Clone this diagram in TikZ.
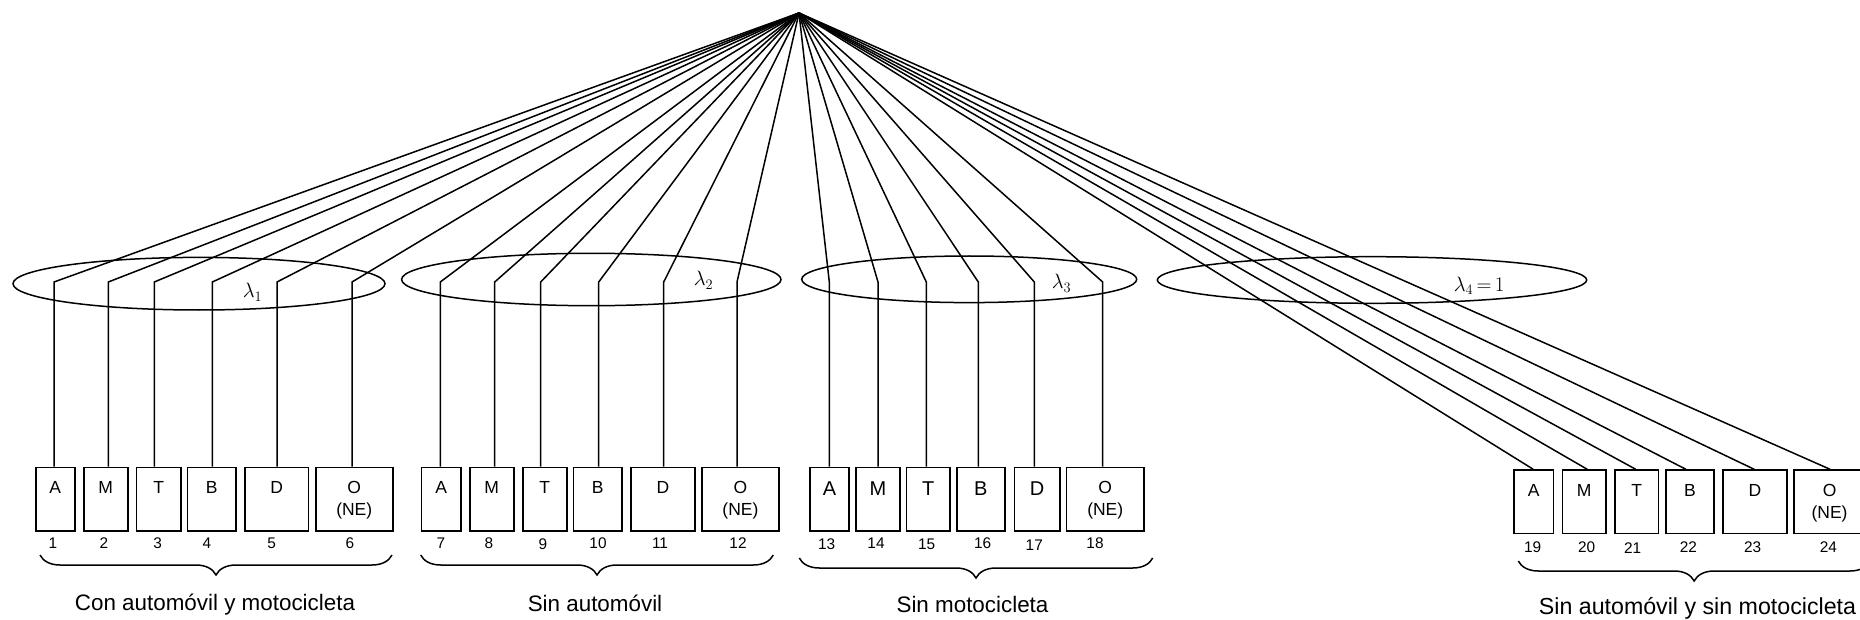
\documentclass[tikz,border=0pt]{standalone}
\usepackage{fontspec}
\setmainfont{Liberation Sans}
\usetikzlibrary{decorations.pathreplacing}

\begin{document}
\begin{tikzpicture}[x=1pt,y=-1pt,line width=1.5pt,
	cell/.style={draw,anchor=north west,inner sep=0,minimum height=63.5},
	letter/.style={anchor=north,inner sep=0,align=center,font=\fontsize{17.5}{21.7}\selectfont},
	bigletter/.style={letter,font=\fontsize{20}{24}\selectfont},
	num/.style={inner sep=0,font=\fontsize{15.4}{18}\selectfont},
	grouplabel/.style={anchor=base,inner sep=0,font=\fontsize{22.4}{26}\selectfont},
	lam/.style={anchor=base west,inner sep=0,font=\fontsize{22}{26}\selectfont},
	underbrace/.style={decorate,decoration={brace,mirror,amplitude=20}}]
			%%%%% START %%%%%
			\useasboundingbox (0,0) rectangle (1860,620);
			
			\coordinate (apex) at (799,13);
			
			%% con automovil y motocicleta
			\draw (199,283.7) ellipse [x radius=186, y radius=26.3];
			\node[lam] (lam1) at (242,298) {$\lambda_1$};
			\node[cell,minimum width=39] (b1) at (35,466.7) {};
			\node[cell,minimum width=44] (b2) at (83,466.7) {};
			\node[cell,minimum width=44.6] (b3) at (135.7,466.7) {};
			\node[cell,minimum width=48.6] (b4) at (186.7,466.7) {};
			\node[cell,minimum width=63.4] (b5) at (244.3,466.7) {};
			\node[cell,minimum width=77] (b6) at (315,466.7) {};
			\node[letter] (t1) at ([yshift=-14pt]b1.north) {A};
			\node[letter] (t2) at ([yshift=-14pt]b2.north) {M};
			\node[letter] (t3) at ([yshift=-14pt]b3.north) {T};
			\node[letter] (t4) at ([yshift=-14pt]b4.north) {B};
			\node[letter] (t5) at ([yshift=-14pt]b5.north) {D};
			\node[letter] (t6) at ([yshift=-14pt]b6.north) {O\\(NE)};
			\draw (apex) -- (54,282) coordinate (k1) -- (k1 |- b1.north);
			\draw (apex) -- (108.3,282) coordinate (k2) -- (k2 |- b2.north);
			\draw (apex) -- (154.3,282) coordinate (k3) -- (k3 |- b3.north);
			\draw (apex) -- (212.3,282) coordinate (k4) -- (k4 |- b4.north);
			\draw (apex) -- (277,282) coordinate (k5) -- (k5 |- b5.north);
			\draw (apex) -- (352,282) coordinate (k6) -- (k6 |- b6.north);
			\node[num] (n1) at (53,543) {1};
			\node[num] (n2) at (104,543) {2};
			\node[num] (n3) at (157.7,543) {3};
			\node[num] (n4) at (207,543) {4};
			\node[num] (n5) at (271.7,543) {5};
			\node[num] (n6) at (350,543) {6};
			\draw[underbrace] (40,555) -- (392,555);
			\node[grouplabel] (g1) at (215,610) {Con automóvil y motocicleta};
			
			%% sin automovil
			\draw (591.3,279.5) ellipse [x radius=189.7, y radius=26.2];
			\node[lam] (lam2) at (693,286) {$\lambda_2$};
			\node[cell,minimum width=39.6] (b7) at (420.7,466.7) {};
			\node[cell,minimum width=44] (b8) at (469,466.7) {};
			\node[cell,minimum width=44] (b9) at (522,466.7) {};
			\node[cell,minimum width=48.6] (b10) at (572.7,466.7) {};
			\node[cell,minimum width=63.7] (b11) at (630.3,466.7) {};
			\node[cell,minimum width=77.3] (b12) at (701,466.7) {};
			\node[letter] (t7) at ([yshift=-14pt]b7.north) {A};
			\node[letter] (t8) at ([yshift=-14pt]b8.north) {M};
			\node[letter] (t9) at ([yshift=-14pt]b9.north) {T};
			\node[letter] (t10) at ([yshift=-14pt]b10.north) {B};
			\node[letter] (t11) at ([yshift=-14pt]b11.north) {D};
			\node[letter] (t12) at ([yshift=-14pt]b12.north) {O\\(NE)};
			\draw (apex) -- (440.3,282) coordinate (k7) -- (k7 |- b7.north);
			\draw (apex) -- (494.7,282) coordinate (k8) -- (k8 |- b8.north);
			\draw (apex) -- (540.7,282) coordinate (k9) -- (k9 |- b9.north);
			\draw (apex) -- (598.7,282) coordinate (k10) -- (k10 |- b10.north);
			\draw (apex) -- (663.7,282) coordinate (k11) -- (k11 |- b11.north);
			\draw (apex) -- (737,282) coordinate (k12) -- (k12 |- b12.north);
			\node[num] (n7) at (441,543) {7};
			\node[num] (n8) at (489,543) {8};
			\node[num] (n9) at (543,544) {9};
			\node[num] (n10) at (598,543) {10};
			\node[num] (n11) at (660,543) {11};
			\node[num] (n12) at (738,543) {12};
			\draw[underbrace] (420.7,555) -- (773.3,555);
			\node[grouplabel] (g2) at (595,611) {Sin automóvil};
			
			%% sin motocicleta
			\draw (969.2,279.3) ellipse [x radius=167.5, y radius=23.3];
			\node[lam] (lam3) at (1051,289) {$\lambda_3$};
			\node[cell,minimum width=39] (b13) at (809.3,466.7) {};
			\node[cell,minimum width=44] (b14) at (855.3,466.7) {};
			\node[cell,minimum width=43.6] (b15) at (905.7,466.7) {};
			\node[cell,minimum width=48.3] (b16) at (956,466.7) {};
			\node[cell,minimum width=45.3] (b17) at (1013.7,466.7) {};
			\node[cell,minimum width=77.6] (b18) at (1065.7,466.7) {};
			\node[bigletter] (t13) at ([yshift=-14pt]b13.north) {A};
			\node[bigletter] (t14) at ([yshift=-14pt]b14.north) {M};
			\node[bigletter] (t15) at ([yshift=-14pt]b15.north) {T};
			\node[bigletter] (t16) at ([yshift=-14pt]b16.north) {B};
			\node[bigletter] (t17) at ([yshift=-14pt]b17.north) {D};
			\node[letter] (t18) at ([yshift=-14pt]b18.north) {O\\(NE)};
			\draw (apex) -- (829.3,282) coordinate (k13) -- (k13 |- b13.north);
			\draw (apex) -- (878,282) coordinate (k14) -- (k14 |- b14.north);
			\draw (apex) -- (926.3,282) coordinate (k15) -- (k15 |- b15.north);
			\draw (apex) -- (978.3,282) coordinate (k16) -- (k16 |- b16.north);
			\draw (apex) -- (1034.3,282) coordinate (k17) -- (k17 |- b17.north);
			\draw (apex) -- (1102.7,282) coordinate (k18) -- (k18 |- b18.north);
			\node[num] (n13) at (826.7,544) {13};
			\node[num] (n14) at (876,543) {14};
			\node[num] (n15) at (926.7,544) {15};
			\node[num] (n16) at (982.7,543) {16};
			\node[num] (n17) at (1034.3,545) {17};
			\node[num] (n18) at (1095,543) {18};
			\draw[underbrace] (799.3,558) -- (1152.7,558);
			\node[grouplabel] (g3) at (972.5,612) {Sin motocicleta};
			
			%% sin automovil y sin motocicleta
			\draw (1372,280) ellipse [x radius=214.7, y radius=23.3];
			\node[lam] (lam4) at (1453,291) {$\lambda_4\,{=}\,1$};
			\node[cell,minimum width=39.4] (b19) at (1513.3,469.3) {};
			\node[cell,minimum width=43.6] (b20) at (1561.7,469.3) {};
			\node[cell,minimum width=43.4] (b21) at (1614.3,469.3) {};
			\node[cell,minimum width=48.3] (b22) at (1665,469.3) {};
			\node[cell,minimum width=63.7] (b23) at (1722.3,469.3) {};
			\node[cell,minimum width=77] (b24) at (1793.3,469.3) {};
			\node[letter] (t19) at ([yshift=-14.5pt]b19.north) {A};
			\node[letter] (t20) at ([yshift=-14.5pt]b20.north) {M};
			\node[letter] (t21) at ([yshift=-14.5pt]b21.north) {T};
			\node[letter] (t22) at ([yshift=-14.5pt]b22.north) {B};
			\node[letter] (t23) at ([yshift=-14.5pt]b23.north) {D};
			\node[letter] (t24) at ([yshift=-14.5pt,xshift=-3pt]b24.north) {O\\(NE)};
			\draw (apex) -- ([xshift=-0.5pt]b19.north);
			\draw (apex) -- ([xshift=3pt]b20.north);
			\draw (apex) -- ([xshift=-1pt]b21.north);
			\draw (apex) -- ([xshift=-4pt]b22.north);
			\draw (apex) -- ([xshift=-0.7pt]b23.north);
			\draw (apex) -- ([xshift=-2.5pt]b24.north);
			\node[num] (n19) at (1532.7,547.3) {19};
			\node[num] (n20) at (1586.7,547.3) {20};
			\node[num] (n21) at (1632.7,548.3) {21};
			\node[num] (n22) at (1688.3,547.3) {22};
			\node[num] (n23) at (1752.7,547.3) {23};
			\node[num] (n24) at (1828.3,547.3) {24};
			\draw[underbrace] (1518.3,561) -- (1870,561);
			\node[grouplabel,font=\fontsize{23.2}{27}\selectfont] (g4) at (1697.5,614) {Sin automóvil y sin motocicleta};
			
			%%%%% END %%%%%
\end{tikzpicture}
\end{document}
